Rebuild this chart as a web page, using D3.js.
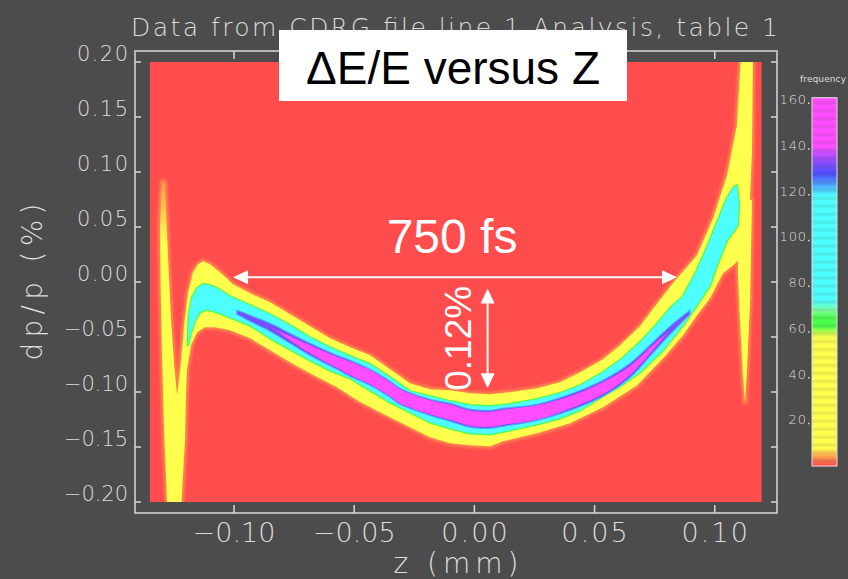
<!DOCTYPE html>
<html>
<head>
<meta charset="utf-8">
<script src="https://cdn.jsdelivr.net/npm/d3@7"></script>
<style>
  body { margin: 0; background: #4c4c4c; }
  svg { display: block; }
  .thin { font-family: "DejaVu Sans", sans-serif; font-weight: 200; fill: #dcdcdc; }
  .note { font-family: "Liberation Sans", Arial, sans-serif; }
</style>
</head>
<body>
<svg width="848" height="579"></svg>
<script>
"use strict";

// ---- data (z in mm, dp/p in %) ----
var xTicks = [-0.10, -0.05, 0.00, 0.05, 0.10],
    yTicks = [0.20, 0.15, 0.10, 0.05, 0.00, -0.05, -0.10, -0.15, -0.20],
    cbarTicks = [20, 40, 60, 80, 100, 120, 140, 160];

var histRange = { z: [-0.135, 0.1195], dp: [-0.20, 0.20] };

// outer contour (frequency > ~5), upper edge then lower edge, left to right
var yellowUpper = [[-0.1258,-0.205],[-0.1245,-0.1439],[-0.1237,-0.1030],[-0.1220,-0.0712],[-0.1208,-0.0394],
  [-0.1192,-0.0103],[-0.1171,0.0088],[-0.1150,0.0161],[-0.1129,0.0188],[-0.1100,0.0161],[-0.1058,0.0088],
  [-0.1004,-0.0021],[-0.0933,-0.0103],[-0.0850,-0.0185],[-0.0767,-0.0294],[-0.0684,-0.0403],[-0.0601,-0.0512],
  [-0.0517,-0.0594],[-0.0434,-0.0666],[-0.0351,-0.0794],[-0.0268,-0.0921],[-0.0185,-0.0975],[-0.0101,-0.0985],
  [-0.0018,-0.1012],[0.0065,-0.1021],[0.0148,-0.1003],[0.0261,-0.0966],[0.0356,-0.0912],[0.0440,-0.0821],
  [0.0535,-0.0703],[0.0606,-0.0575],[0.0689,-0.0403],[0.0751,-0.0221],[0.0826,-0.0012],[0.0926,0.0243],
  [0.0993,0.0579],[0.1051,0.0970],[0.1092,0.1425],[0.1109,0.206],[0.1159,0.206],[0.1155,0.1197],
  [0.1142,0.0515],[0.1109,0.0215]];
var yellowLower = [[-0.1220,-0.205],[-0.1204,-0.1439],[-0.1200,-0.1030],[-0.1196,-0.0803],[-0.1179,-0.0575],
  [-0.1154,-0.0457],[-0.1121,-0.0412],[-0.1079,-0.0412],[-0.1017,-0.0439],[-0.0933,-0.0512],[-0.0850,-0.0621],
  [-0.0767,-0.0730],[-0.0684,-0.0830],[-0.0572,-0.0957],[-0.0488,-0.1075],[-0.0393,-0.1185],[-0.0310,-0.1275],
  [-0.0185,-0.1412],[-0.0101,-0.1466],[-0.0018,-0.1485],[0.0065,-0.1494],[0.0119,-0.1448],[0.0261,-0.1375],
  [0.0398,-0.1285],[0.0535,-0.1139],[0.0677,-0.0939],[0.0785,-0.0694],[0.0868,-0.0485],[0.0926,-0.0303],
  [0.0980,-0.0148],[0.1034,0.0079],[0.1076,0.0152]];

var leftSpike = [[-0.1303,0.0788],[-0.1297,0.0915],[-0.1289,0.0906],[-0.1282,0.0606],[-0.1274,0.0197],
  [-0.1262,-0.0348],[-0.1249,-0.0757],[-0.1237,-0.1030],[-0.1233,-0.1439],[-0.1225,-0.205],[-0.1278,-0.205],
  [-0.1291,-0.1348],[-0.1299,-0.0712],[-0.1305,-0.0103],[-0.1308,0.0497]];
var rightSpike = [[0.1109,0.0743],[0.1155,0.0743],[0.1147,-0.0166],[0.1134,-0.0803],[0.1126,-0.1094],
  [0.1117,-0.0848],[0.1105,-0.0348],[0.1096,0.0106]];

// middle contour (frequency > ~70)
var cyanUpper = [[-0.1192,-0.0575],[-0.1188,-0.0303],[-0.1175,-0.0148],[-0.1154,-0.0057],[-0.1129,-0.0021],
  [-0.1100,-0.0030],[-0.1071,-0.0057],[-0.1017,-0.0130],[-0.0933,-0.0212],[-0.0850,-0.0294],[-0.0767,-0.0394],
  [-0.0684,-0.0503],[-0.0601,-0.0594],[-0.0517,-0.0675],[-0.0434,-0.0748],[-0.0351,-0.0866],[-0.0268,-0.0994],
  [-0.0185,-0.1039],[-0.0101,-0.1085],[-0.0018,-0.1121],[0.0065,-0.1130],[0.0148,-0.1112],[0.0261,-0.1066],
  [0.0356,-0.1012],[0.0440,-0.0939],[0.0535,-0.0821],[0.0606,-0.0712],[0.0689,-0.0548],[0.0751,-0.0403],
  [0.0814,-0.0239],[0.0868,-0.0130],[0.0926,0.0106],[0.0980,0.0379],[0.1022,0.0606],[0.1051,0.0761],
  [0.1076,0.0852],[0.1092,0.0879],[0.1101,0.0697]];
var cyanLower = [[-0.1179,-0.0457],[-0.1162,-0.0348],[-0.1142,-0.0275],[-0.1113,-0.0248],[-0.1071,-0.0275],
  [-0.1017,-0.0321],[-0.0933,-0.0394],[-0.0850,-0.0512],[-0.0767,-0.0612],[-0.0684,-0.0712],[-0.0601,-0.0803],
  [-0.0517,-0.0875],[-0.0434,-0.0985],[-0.0351,-0.1094],[-0.0268,-0.1185],[-0.0185,-0.1275],[-0.0101,-0.1330],
  [-0.0018,-0.1375],[0.0065,-0.1385],[0.0148,-0.1348],[0.0261,-0.1294],[0.0356,-0.1239],[0.0440,-0.1166],
  [0.0535,-0.1039],[0.0606,-0.0948],[0.0689,-0.0821],[0.0785,-0.0621],[0.0868,-0.0394],[0.0926,-0.0212],
  [0.0980,-0.0030],[0.1014,0.0179],[0.1051,0.0379],[0.1076,0.0452],[0.1096,0.0515]];

// dense core (frequency > ~125 and > ~138)
var coreZ    = [-0.0988,-0.0933,-0.0850,-0.0767,-0.0684,-0.0572,-0.0517,-0.0434,-0.0351,-0.0310,-0.0185,
                -0.0101,-0.0018,0.0065,0.0119,0.0261,0.0398,0.0535,0.0648,0.0760,0.0814,0.0897],
    coreMid  = [-0.0275,-0.0330,-0.0412,-0.0512,-0.0612,-0.0730,-0.0785,-0.0866,-0.0975,-0.1039,-0.1139,
                -0.1185,-0.1239,-0.1248,-0.1230,-0.1185,-0.1094,-0.0966,-0.0803,-0.0557,-0.0439,-0.0275],
    coreHalf = [0.0018,0.0027,0.0036,0.0045,0.0055,0.0064,0.0073,0.0073,0.0073,0.0073,0.0073,
                0.0082,0.0082,0.0082,0.0082,0.0073,0.0073,0.0073,0.0064,0.0045,0.0036,0.0018],
    magHalf  = [0,0,0,0.0018,0.0036,0.0050,0.0060,0.0064,0.0064,0.0064,0.0064,
                0.0068,0.0068,0.0068,0.0068,0.0064,0.0055,0.0055,0.0040,0.0018,0,0];

// colour map of the frequency palette
var cmapValues = [0, 2, 4, 6, 8, 55, 58, 61, 65, 68, 72, 118, 121, 125, 128, 133, 137, 140, 161],
    cmapColors = ["#ff4d4d","#ff6a4d","#ff994d","#ffd04d","#ffff4d","#ffff4d","#d9ff4d","#4dff4d","#4dff4d",
                  "#80ff99","#4dffff","#4dffff","#4dccff","#4d80ff","#4d4dff","#8c4dff","#cc4dff","#ff4dff","#ff4dff"];

// annotations (in data units)
var spanArrow = { z: [-0.1004, 0.0843], dp: 0.0043, label: "750 fs" },
    depthArrow = { z: 0.0055, dp: [-0.0058, -0.0966], label: "0.12%" };

var svg = d3.select("svg"),
    width = +svg.attr("width"),
    height = +svg.attr("height");

var frame = { left: 135, right: 777, top: 51, bottom: 513 };

var x = d3.scaleLinear().domain([-0.1412, 0.1259]).range([frame.left, frame.right]),
    y = d3.scaleLinear().domain([-0.21, 0.21]).range([frame.bottom, frame.top]);

svg.append("rect").attr("width", width).attr("height", height).attr("fill", "#4c4c4c");

var defs = svg.append("defs");
defs.append("clipPath").attr("id", "hist")
  .append("rect")
    .attr("x", x(histRange.z[0])).attr("y", y(histRange.dp[1]))
    .attr("width", x(histRange.z[1]) - x(histRange.z[0]))
    .attr("height", y(histRange.dp[0]) - y(histRange.dp[1]));
defs.append("filter").attr("id", "soft").attr("x", "-20%").attr("y", "-20%").attr("width", "140%").attr("height", "140%")
  .append("feGaussianBlur").attr("stdDeviation", 1.3);
var grad = defs.append("linearGradient").attr("id", "spikeTop")
    .attr("gradientUnits", "userSpaceOnUse")
    .attr("x1", 0).attr("x2", 0).attr("y1", y(0.09)).attr("y2", y(0.035));
grad.append("stop").attr("offset", 0).attr("stop-color", "#ffa04d");
grad.append("stop").attr("offset", 1).attr("stop-color", "#ffff4d");

var cmap = d3.scaleLinear().domain(cmapValues).range(cmapColors).clamp(true);

// histogram background
svg.append("rect")
    .attr("x", x(histRange.z[0])).attr("y", y(histRange.dp[1]))
    .attr("width", x(histRange.z[1]) - x(histRange.z[0]))
    .attr("height", y(histRange.dp[0]) - y(histRange.dp[1]))
    .attr("fill", cmap(0));

var poly = d3.line()
    .x(function(d) { return x(d[0]); })
    .y(function(d) { return y(d[1]); })
    .curve(d3.curveLinearClosed);

var yellowBand = yellowUpper.concat(yellowLower.slice().reverse()),
    cyanBand = cyanUpper.concat(cyanLower.slice().reverse());

var plot = svg.append("g").attr("clip-path", "url(#hist)");

var outer = [yellowBand, leftSpike, rightSpike];

plot.selectAll("path.fringe")
  .data(outer)
  .enter().append("path")
    .attr("class", "fringe")
    .attr("d", poly)
    .attr("fill", cmap(4))
    .attr("stroke", cmap(3))
    .attr("stroke-width", 5)
    .attr("stroke-linejoin", "round")
    .attr("filter", "url(#soft)");

plot.selectAll("path.outer")
  .data(outer)
  .enter().append("path")
    .attr("class", "outer")
    .attr("d", poly)
    .attr("fill", function(d, i) { return i === 1 ? "url(#spikeTop)" : cmap(30); });

plot.append("path")
    .attr("d", poly(cyanBand))
    .attr("fill", "none")
    .attr("stroke", cmap(63))
    .attr("stroke-width", 2.5)
    .attr("stroke-linejoin", "round");

plot.append("path")
    .attr("d", poly(cyanBand))
    .attr("fill", cmap(95));

var idx = d3.range(coreZ.length);

var coreArea = function(half) {
  return d3.area()
    .x(function(i) { return x(coreZ[i]); })
    .y0(function(i) { return y(coreMid[i] + half[i]); })
    .y1(function(i) { return y(coreMid[i] - half[i]); })
    .curve(d3.curveCatmullRom);
};

plot.append("path")
    .attr("d", coreArea(coreHalf)(idx))
    .attr("fill", cmap(131))
    .attr("stroke", cmap(123))
    .attr("stroke-width", 1.2);

plot.append("path")
    .attr("d", coreArea(magHalf)(idx))
    .attr("fill", cmap(150));

// frame and inward ticks
var axisColor = "#d8d8d8";
svg.append("rect")
    .attr("x", frame.left).attr("y", frame.top)
    .attr("width", frame.right - frame.left).attr("height", frame.bottom - frame.top)
    .attr("fill", "none").attr("stroke", axisColor).attr("stroke-width", 1.5);

var ticks = svg.append("g").attr("stroke", axisColor).attr("stroke-width", 1.5);
xTicks.forEach(function(t) {
  ticks.append("line").attr("x1", x(t)).attr("x2", x(t)).attr("y1", frame.bottom).attr("y2", frame.bottom - 8);
  ticks.append("line").attr("x1", x(t)).attr("x2", x(t)).attr("y1", frame.top).attr("y2", frame.top + 8);
});
yTicks.forEach(function(t) {
  ticks.append("line").attr("y1", y(t)).attr("y2", y(t)).attr("x1", frame.left).attr("x2", frame.left + 6);
  ticks.append("line").attr("y1", y(t)).attr("y2", y(t)).attr("x1", frame.right).attr("x2", frame.right - 6);
});

var fmt = d3.format(".2f");

svg.selectAll("text.xlab")
  .data(xTicks)
  .enter().append("text")
    .attr("class", "thin")
    .attr("x", function(d) { return x(d); })
    .attr("y", 542)
    .attr("text-anchor", "middle")
    .style("font-size", "27px")
    .attr("textLength", function(d) { return 16.6 * fmt(d).length; })
    .attr("lengthAdjust", "spacing")
    .text(function(d) { return fmt(d); });

svg.selectAll("text.ylab")
  .data(yTicks)
  .enter().append("text")
    .attr("class", "thin")
    .attr("x", 128)
    .attr("y", function(d) { return y(d) - 1; })
    .attr("text-anchor", "end")
    .style("font-size", "21px")
    .attr("textLength", function(d) { return 13 * fmt(d).length - 1; })
    .attr("lengthAdjust", "spacing")
    .text(function(d) { return fmt(d); });

svg.append("text")
    .attr("class", "thin")
    .attr("x", (frame.left + frame.right) / 2)
    .attr("y", 573)
    .attr("text-anchor", "middle")
    .style("font-size", "28px")
    .attr("textLength", 125).attr("lengthAdjust", "spacing")
    .text("z (mm)");

svg.append("text")
    .attr("class", "thin")
    .attr("transform", "translate(42," + ((frame.top + frame.bottom) / 2) + ") rotate(-90)")
    .attr("text-anchor", "middle")
    .style("font-size", "28px")
    .attr("textLength", 157).attr("lengthAdjust", "spacing")
    .text("dp/p (%)");

svg.append("text")
    .attr("class", "thin")
    .attr("x", 131).attr("y", 36)
    .style("font-size", "25px")
    .attr("textLength", 647).attr("lengthAdjust", "spacing")
    .text("Data from CDRG file line 1 Analysis, table 1");

// colour bar
var yc = d3.scaleLinear().domain([0, 160]).range([466, 100]),
    cbar = { x: 812, w: 25, top: 161 };

svg.append("g").selectAll("rect")
  .data(d3.range(0, cbar.top, 0.5))
  .enter().append("rect")
    .attr("x", cbar.x).attr("width", cbar.w)
    .attr("y", function(v) { return yc(v + 0.5); })
    .attr("height", yc(0) - yc(0.5) + 0.3)
    .attr("fill", function(v) { return cmap(v + 0.25); });

svg.append("rect")
    .attr("x", cbar.x).attr("y", yc(cbar.top)).attr("width", cbar.w).attr("height", yc(0) - yc(cbar.top))
    .attr("fill", "none").attr("stroke", "#e0e0e0").attr("stroke-width", 1);

svg.selectAll("text.clab")
  .data(cbarTicks)
  .enter().append("text")
    .attr("class", "thin")
    .attr("x", 806)
    .attr("y", function(d) { return yc(d) + 4; })
    .attr("text-anchor", "end")
    .style("font-size", "13px")
    .attr("textLength", function(d) { return 8.8 * String(d).length; })
    .attr("lengthAdjust", "spacing")
    .text(function(d) { return d; });

svg.selectAll("rect.cdot")
  .data(cbarTicks)
  .enter().append("rect")
    .attr("x", 808).attr("y", function(d) { return yc(d) + 2.5; })
    .attr("width", 1.5).attr("height", 1.5).attr("fill", "#d8d8d8");

svg.append("text")
    .attr("class", "thin")
    .attr("x", 800).attr("y", 82)
    .style("font-size", "9px").style("font-weight", 400)
    .attr("textLength", 46).attr("lengthAdjust", "spacing")
    .text("frequency");

// annotations added on top of the plot
svg.append("rect")
    .attr("x", 279).attr("y", 30).attr("width", 348).attr("height", 71)
    .attr("fill", "#ffffff");
svg.append("text")
    .attr("class", "note")
    .attr("x", 453).attr("y", 84)
    .attr("text-anchor", "middle")
    .style("font-size", "46px")
    .attr("fill", "#000")
    .text("\u0394E/E versus Z");

function arrowHead(g, tip, dir) {
  // dir: unit vector pointing towards the tip
  var len = 15, half = 7,
      bx = tip[0] - dir[0] * len, by = tip[1] - dir[1] * len;
  g.append("path")
    .attr("d", "M" + tip[0] + "," + tip[1] +
               "L" + (bx - dir[1] * half) + "," + (by + dir[0] * half) +
               "L" + (bx + dir[1] * half) + "," + (by - dir[0] * half) + "Z")
    .attr("fill", "#fff");
}

var notes = svg.append("g");
var hy = y(spanArrow.dp), hx0 = x(spanArrow.z[0]), hx1 = x(spanArrow.z[1]);
notes.append("line").attr("x1", hx0 + 10).attr("x2", hx1 - 10).attr("y1", hy).attr("y2", hy)
    .attr("stroke", "#fff").attr("stroke-width", 2);
arrowHead(notes, [hx0, hy], [-1, 0]);
arrowHead(notes, [hx1, hy], [1, 0]);
notes.append("text")
    .attr("class", "note")
    .attr("x", (hx0 + hx1) / 2 - 3).attr("y", 253)
    .attr("text-anchor", "middle")
    .style("font-size", "48px")
    .attr("fill", "#fff")
    .text(spanArrow.label);

var vx = x(depthArrow.z), vy0 = y(depthArrow.dp[0]), vy1 = y(depthArrow.dp[1]);
notes.append("line").attr("x1", vx).attr("x2", vx).attr("y1", vy0 + 10).attr("y2", vy1 - 10)
    .attr("stroke", "#fff").attr("stroke-width", 2);
arrowHead(notes, [vx, vy0], [0, -1]);
arrowHead(notes, [vx, vy1], [0, 1]);
notes.append("text")
    .attr("class", "note")
    .attr("transform", "translate(" + (vx - 17) + "," + ((vy0 + vy1) / 2) + ") rotate(-90)")
    .attr("text-anchor", "middle")
    .style("font-size", "37px")
    .attr("fill", "#fff")
    .text(depthArrow.label);
</script>
</body>
</html>
